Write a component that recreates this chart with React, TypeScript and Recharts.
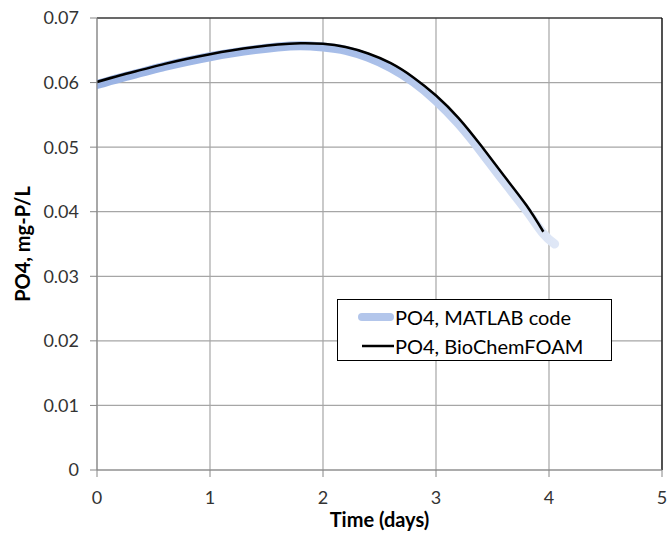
import React from 'react';
import { LineChart, Line, XAxis, YAxis, CartesianGrid, Legend, Label, ReferenceLine } from 'recharts';

// PO4 concentration over time, two model runs
const matlabTime = [0, 0.2, 0.4, 0.6, 0.8, 1.0, 1.2, 1.4, 1.6, 1.8, 2.0, 2.2, 2.4, 2.6, 2.8, 3.0, 3.2, 3.4, 3.6, 3.8, 3.95, 4.05];
const matlabPO4 = [0.0597, 0.0607, 0.0616, 0.0625, 0.0633, 0.064, 0.0646, 0.0651, 0.0655, 0.0657, 0.0655, 0.065, 0.0639, 0.0623, 0.0601, 0.0572, 0.0536, 0.0493, 0.0447, 0.0402, 0.0366, 0.035];

const foamTime = [0, 0.2, 0.4, 0.6, 0.8, 1.0, 1.2, 1.4, 1.6, 1.8, 2.0, 2.2, 2.4, 2.6, 2.8, 3.0, 3.2, 3.4, 3.6, 3.8, 3.95];
const foamPO4 = [0.0601, 0.0611, 0.062, 0.0629, 0.0637, 0.0644, 0.065, 0.0655, 0.0659, 0.0661, 0.066, 0.0655, 0.0645, 0.063, 0.0608, 0.058, 0.0545, 0.0502, 0.0456, 0.041, 0.0369];

const timeTicks = [0, 1, 2, 3, 4, 5];
const po4Ticks = [0, 0.01, 0.02, 0.03, 0.04, 0.05, 0.06, 0.07];

const matlabData = matlabTime.map((t, i) => ({ t, po4: matlabPO4[i] }));
const foamData = foamTime.map((t, i) => ({ t, po4: foamPO4[i] }));

const FONT = 'Lato, "Open Sans", sans-serif';
const AXIS_GREY = '#868686';

const renderLegend = () => (
  <div
    style={{
      width: 275,
      height: 62,
      border: '1px solid #000',
      background: '#fff',
      fontFamily: FONT,
      fontSize: 20,
      color: '#000',
      boxSizing: 'border-box',
      textAlign: 'left',
    }}
  >
    <div style={{ display: 'flex', alignItems: 'center', height: 30, paddingTop: 2 }}>
      <svg width={57} height={12}>
        <line x1={24} y1={6} x2={52} y2={6} stroke="#b3c6eb" strokeWidth={8} strokeLinecap="round" />
      </svg>
      <span>PO4, MATLAB code</span>
    </div>
    <div style={{ display: 'flex', alignItems: 'center', height: 28 }}>
      <svg width={57} height={12}>
        <line x1={24} y1={6} x2={56} y2={6} stroke="#000" strokeWidth={2.5} />
      </svg>
      <span>PO4, BioChemFOAM</span>
    </div>
  </div>
);

export default function App() {
  return (
    <div style={{ position: 'absolute', left: 0, top: 0, background: '#fff' }}>
      <LineChart width={671} height={534} margin={{ top: 18, right: 9, bottom: 0, left: 0 }}>
        <defs>
          <linearGradient id="matlabStroke" x1="0" y1="0" x2="1" y2="0">
            <stop offset="0%" stopColor="#9ab3e4" />
            <stop offset="60%" stopColor="#a9bfe9" />
            <stop offset="100%" stopColor="#dfe7f6" />
          </linearGradient>
        </defs>
        <CartesianGrid stroke="#a6a6a6" strokeWidth={1.2} />
        <XAxis
          type="number"
          dataKey="t"
          domain={[0, 5]}
          ticks={timeTicks}
          allowDataOverflow
          height={64}
          tickSize={7}
          tickMargin={14}
          stroke={AXIS_GREY}
          tick={{ fill: '#333', fontFamily: FONT, fontSize: 18 }}
        >
          <Label
            value="Time (days)"
            position="center"
            dy={18}
            style={{ fontFamily: FONT, fontSize: 20, fontWeight: 700, fill: '#000' }}
          />
        </XAxis>
        <YAxis
          type="number"
          domain={[0, 0.07]}
          ticks={po4Ticks}
          allowDataOverflow
          width={97}
          tickSize={7}
          tickMargin={11}
          stroke={AXIS_GREY}
          tickFormatter={(v: number) => (v === 0 ? '0' : v.toFixed(2))}
          tick={{ fill: '#333', fontFamily: FONT, fontSize: 18 }}
        >
          <Label
            value="PO4, mg-P/L"
            angle={-90}
            position="center"
            dx={-26}
            style={{ fontFamily: FONT, fontSize: 20, fontWeight: 700, fill: '#000', textAnchor: 'middle' }}
          />
        </YAxis>
        <ReferenceLine y={0.07} stroke="#000" strokeWidth={1.2} />
        <ReferenceLine x={5} stroke="#000" strokeWidth={1.2} />
        <Legend
          verticalAlign="middle"
          align="center"
          content={renderLegend}
          wrapperStyle={{ left: 337, top: 299, width: 275, height: 62 }}
        />
        <Line
          data={matlabData}
          dataKey="po4"
          name="PO4, MATLAB code"
          type="natural"
          stroke="url(#matlabStroke)"
          strokeWidth={9}
          strokeLinecap="round"
          dot={false}
          isAnimationActive={false}
        />
        <Line
          data={foamData}
          dataKey="po4"
          name="PO4, BioChemFOAM"
          type="natural"
          stroke="#000"
          strokeWidth={2.5}
          dot={false}
          isAnimationActive={false}
        />
      </LineChart>
    </div>
  );
}
